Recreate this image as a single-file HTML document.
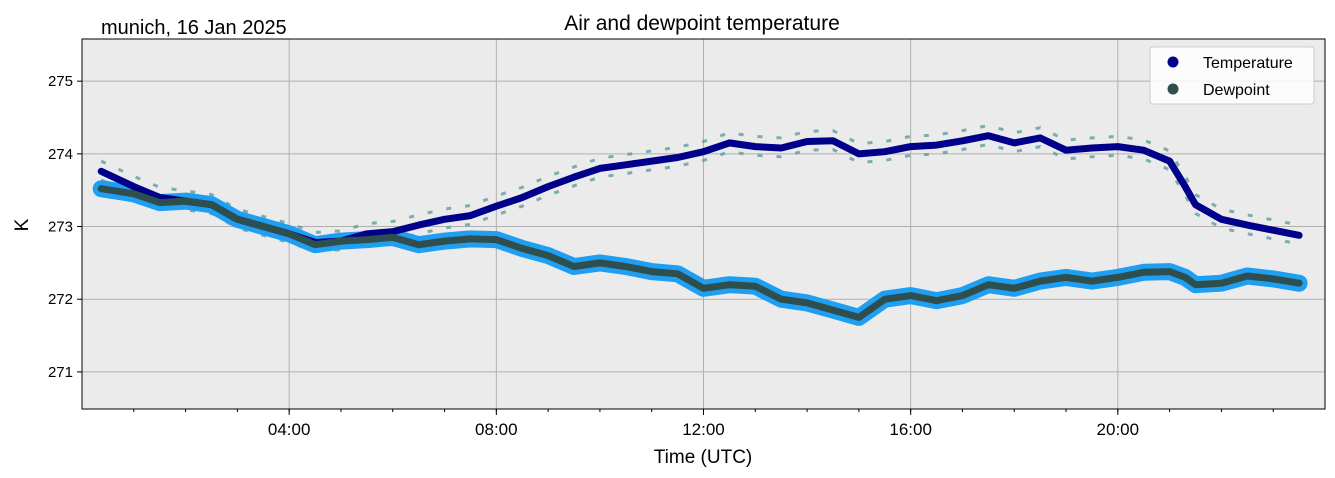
<!DOCTYPE html>
<html><head><meta charset="utf-8"><style>
html,body{margin:0;padding:0;background:#fff;}
svg{display:block;font-family:"Liberation Sans","DejaVu Sans",sans-serif;}
</style></head><body>
<svg id="chart" width="1335" height="478">
  <rect x="82" y="39" width="1243" height="370" fill="#ebebeb"/>
  <g id="grid"></g>
  <g id="series" clip-path="url(#clip)"></g>
  <defs><clipPath id="clip"><rect x="82" y="39" width="1243" height="370"/></clipPath></defs>
  <rect x="82" y="39" width="1243" height="370" fill="none" stroke="#000" stroke-width="1"/>
  <g id="axes"></g>
  <text x="702" y="30" text-anchor="middle" font-size="21" fill="#000">Air and dewpoint temperature</text>
  <text x="101" y="34" font-size="20" fill="#000">munich, 16 Jan 2025</text>
  <text x="703" y="463" text-anchor="middle" font-size="19" fill="#000">Time (UTC)</text>
  <text x="28" y="225" text-anchor="middle" font-size="19" fill="#000" transform="rotate(-90 28 225)">K</text>
  <g>
    <rect x="1150" y="47" width="164" height="57" rx="3" fill="#fff" fill-opacity="0.85" stroke="#ccc"/>
    <g>
      <circle cx="1173" cy="62" r="5.5" fill="#00008b"/>
      <text x="1203" y="68" font-size="16">Temperature</text>
    </g>
    <g>
      <circle cx="1173" cy="89" r="5.5" fill="#2f4f4f"/>
      <text x="1203" y="95" font-size="16">Dewpoint</text>
    </g>
  </g>
</svg>
<script>
const hours = [0.37,1,1.5,2,2.5,3,3.5,4,4.5,5,5.5,6,6.5,7,7.5,8,8.5,9,9.5,10,10.5,11,11.5,12,12.5,13,13.5,14,14.5,15,15.5,16,16.5,17,17.5,18,18.5,19,19.5,20,20.5,21,21.3,21.5,22,22.5,23,23.5];
const tempSmoothed = [273.76,273.55,273.4,273.35,273.3,273.1,273.0,272.9,272.78,272.8,272.9,272.93,273.02,273.1,273.15,273.28,273.4,273.55,273.68,273.8,273.85,273.9,273.95,274.03,274.15,274.1,274.08,274.17,274.18,274.0,274.03,274.1,274.12,274.18,274.25,274.15,274.22,274.05,274.08,274.1,274.05,273.9,273.55,273.3,273.1,273.02,272.95,272.88];
const dewSmoothed = [273.52,273.45,273.33,273.35,273.3,273.1,273.0,272.9,272.75,272.8,272.82,272.85,272.75,272.8,272.83,272.82,272.7,272.6,272.45,272.5,272.45,272.38,272.35,272.15,272.2,272.18,272.0,271.95,271.85,271.75,272.0,272.05,271.98,272.05,272.2,272.15,272.25,272.3,272.25,272.3,272.37,272.38,272.3,272.2,272.22,272.32,272.28,272.22];
const yTicks = [271,272,273,274,275];
const xTicks = [4,8,12,16,20];
const xTickLabels = ["04:00","08:00","12:00","16:00","20:00"];

const NS="http://www.w3.org/2000/svg";
const X0=82,X1=1325,Y0=39,Y1=409,xmin=0,xmax=24,ymin=270.49,ymax=275.58;
function xs(h){return X0+(h-xmin)/(xmax-xmin)*(X1-X0);}
function ys(v){return Y1-(v-ymin)/(ymax-ymin)*(Y1-Y0);}
function mk(tag,attrs,parent){const e=document.createElementNS(NS,tag);for(const k in attrs)e.setAttribute(k,attrs[k]);parent.appendChild(e);return e;}
const grid=document.getElementById('grid'),axes=document.getElementById('axes'),series=document.getElementById('series');

yTicks.forEach(v=>{
  const y=ys(v);
  const g=mk('line',{x1:X0,x2:X1,y1:y,y2:y,stroke:'#b0b0b0','stroke-width':1},grid);
  
  
  mk('line',{x1:X0-5,x2:X0,y1:y,y2:y,stroke:'#000'},axes);
  const t=mk('text',{x:X0-9,y:y+5,'text-anchor':'end','font-size':15},axes);
  t.textContent=v;
  
  
});
for(let h=1;h<24;h++){mk('line',{x1:xs(h),x2:xs(h),y1:Y1,y2:Y1+3,stroke:'#000'},axes);}
xTicks.forEach((h,i)=>{
  const x=xs(h);
  const g=mk('line',{x1:x,x2:x,y1:Y0,y2:Y1,stroke:'#b0b0b0','stroke-width':1},grid);
  
  
  mk('line',{x1:x,x2:x,y1:Y1,y2:Y1+6,stroke:'#000'},axes);
  const t=mk('text',{x:x,y:Y1+26,'text-anchor':'middle','font-size':17},axes);
  t.textContent=xTickLabels[i];
  
  
});
function pts(arr,off){return hours.map((h,i)=>xs(h).toFixed(1)+','+ys(arr[i]+off).toFixed(1)).join(' ');}
[0.14,-0.12].forEach(off=>{
  const p=mk('polyline',{points:pts(tempSmoothed,off),fill:'none',stroke:'#5f9ea0','stroke-width':3,'stroke-dasharray':'5 14','stroke-opacity':0.8},series);
  
  
});
const rd=mk('polyline',{points:pts(dewSmoothed,0),fill:'none',stroke:'#1e9ff2','stroke-width':17,'stroke-linejoin':'round','stroke-linecap':'round'},series);


const ts=mk('polyline',{points:pts(tempSmoothed,0),fill:'none',stroke:'#00008b','stroke-width':7,'stroke-linejoin':'round','stroke-linecap':'round'},series);


const ds=mk('polyline',{points:pts(dewSmoothed,0),fill:'none',stroke:'#2f4f4f','stroke-width':7,'stroke-linejoin':'round','stroke-linecap':'round'},series);


</script>
</body></html>
